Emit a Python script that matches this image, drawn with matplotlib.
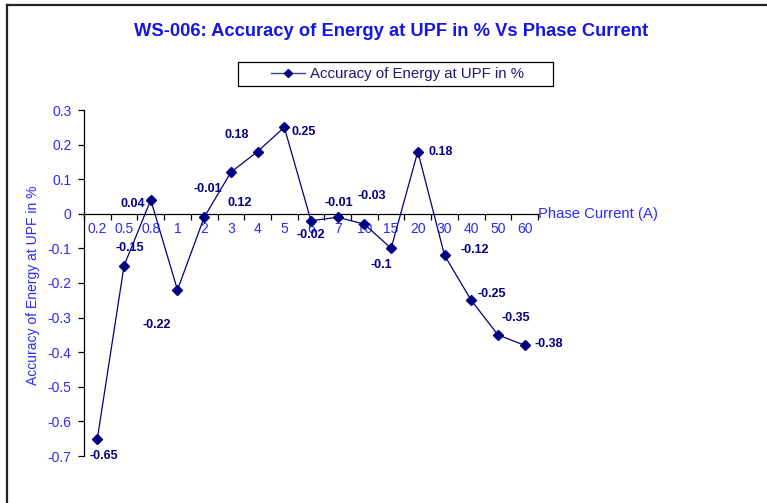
import matplotlib
matplotlib.use("Agg")
import matplotlib.pyplot as plt
from matplotlib.lines import Line2D
from matplotlib.patches import Rectangle
from matplotlib.ticker import FixedLocator, FuncFormatter

plt.rcParams['font.family'] = ['Liberation Sans', 'DejaVu Sans']
plt.rcParams['axes.unicode_minus'] = False

# ---- data ----
categories = ['0.2', '0.5', '0.8', '1', '2', '3', '4', '5', '6', '7',
              '10', '15', '20', '30', '40', '50', '60']
accuracy = [-0.65, -0.15, 0.04, -0.22, -0.01, 0.12, 0.18, 0.25, -0.02, -0.01,
            -0.03, -0.1, 0.18, -0.12, -0.25, -0.35, -0.38]
y_ticks = [0.3, 0.2, 0.1, 0, -0.1, -0.2, -0.3, -0.4, -0.5, -0.6, -0.7]
title = 'WS-006: Accuracy of Energy at UPF in % Vs Phase Current'
series_name = 'Accuracy of Energy at UPF in %'
x_title = 'Phase Current (A)'
y_title = 'Accuracy of Energy at UPF in %'

# label offsets (pixels, dx right, dy up) -- placement style only
label_offsets = [(6, -17), (6, 18), (-18, -4), (-21, -35), (4, 28), (9, -31),
                 (-21, 17), (19, -5), (0, -14), (1, 14), (7, 28), (-10, -17),
                 (23, 0), (30, 5), (21, 6), (18, 17), (24, 1)]

W, H = 767, 503
fig = plt.figure(figsize=(W / 100, H / 100), dpi=100)
fig.patch.set_facecolor('white')

L, R, T, B = 84, 538, 110, 456
ax = fig.add_axes([L / W, 1 - B / H, (R - L) / W, (B - T) / H])
ax.set_facecolor('none')

navy = '#000080'
blue = '#2a2aff'

x = list(range(len(categories)))
ax.plot(x, accuracy, color=navy, lw=0.9, marker='D', ms=5,
        markerfacecolor=navy, markeredgecolor=navy, label=series_name,
        clip_on=False, zorder=3)

for xi, v, (dx, dy) in zip(x, accuracy, label_offsets):
    ax.annotate(f'{v:g}', (xi, v), xytext=(dx, dy), textcoords='offset pixels',
                ha='center', va='center', fontsize=9, fontweight='bold',
                color=navy)

ax.set_xlim(-0.5, len(categories) - 0.5)
ax.set_ylim(min(y_ticks), max(y_ticks))

for s in ['top', 'right']:
    ax.spines[s].set_visible(False)
ax.spines['bottom'].set_position(('data', 0))
ax.spines['left'].set_color('black')
ax.spines['bottom'].set_color('black')
ax.spines['left'].set_linewidth(0.9)
ax.spines['bottom'].set_linewidth(0.9)

ax.xaxis.set_major_locator(FixedLocator([i - 0.5 for i in range(len(categories) + 1)]))
ax.xaxis.set_major_formatter(FuncFormatter(lambda v, p: ''))
ax.xaxis.set_minor_locator(FixedLocator(x))
ax.xaxis.set_minor_formatter(FuncFormatter(lambda v, p: categories[int(round(v))]))
ax.tick_params(axis='x', which='major', direction='out', length=4, width=0.9, color='black')
ax.tick_params(axis='x', which='minor', length=0, pad=6, labelsize=10, labelcolor=blue)

ax.yaxis.set_major_locator(FixedLocator(y_ticks))
ax.yaxis.set_major_formatter(FuncFormatter(lambda v, p: f'{round(v, 2):g}'))
ax.tick_params(axis='y', direction='out', length=4, width=0.9, color='black',
               pad=5, labelsize=10, labelcolor=blue)

ax.text(1.0, 0, x_title, transform=ax.get_yaxis_transform(), ha='left',
        va='center', fontsize=10.7, color=blue)
fig.text(33 / W, 1 - 285 / H, y_title, rotation=90, ha='center', va='center',
         fontsize=10, color=blue)

fig.text(391 / W, 1 - 31.5 / H, title, ha='center', va='center', fontsize=13.2,
         fontweight='bold', color='#1515e6')

# legend box
lx0, lx1, ly0, ly1 = 238, 553, 62, 86
fig.add_artist(Rectangle((lx0 / W, 1 - ly1 / H), (lx1 - lx0) / W, (ly1 - ly0) / H,
                         transform=fig.transFigure, fill=False, edgecolor='black',
                         lw=0.9))
fig.legend(handles=[Line2D([0], [0], color='#4040a0', lw=1.0, marker='D', ms=4,
                           markerfacecolor=navy, markeredgecolor=navy)],
           labels=[series_name], loc='center',
           bbox_to_anchor=((lx0 + lx1) / 2 / W + 0.002, 1 - (ly0 + ly1) / 2 / H),
           frameon=False, fontsize=10.8, handlelength=2.3, handletextpad=0.3,
           labelcolor='#1a1a70')

# outer chart border
fig.add_artist(Line2D([7 / W, 7 / W], [0, 1 - 5 / H], transform=fig.transFigure,
                      color='#222222', lw=1.6))
fig.add_artist(Line2D([7 / W, 1], [1 - 5 / H, 1 - 5 / H], transform=fig.transFigure,
                      color='#222222', lw=1.6))

fig.savefig('out.png', dpi=100)
